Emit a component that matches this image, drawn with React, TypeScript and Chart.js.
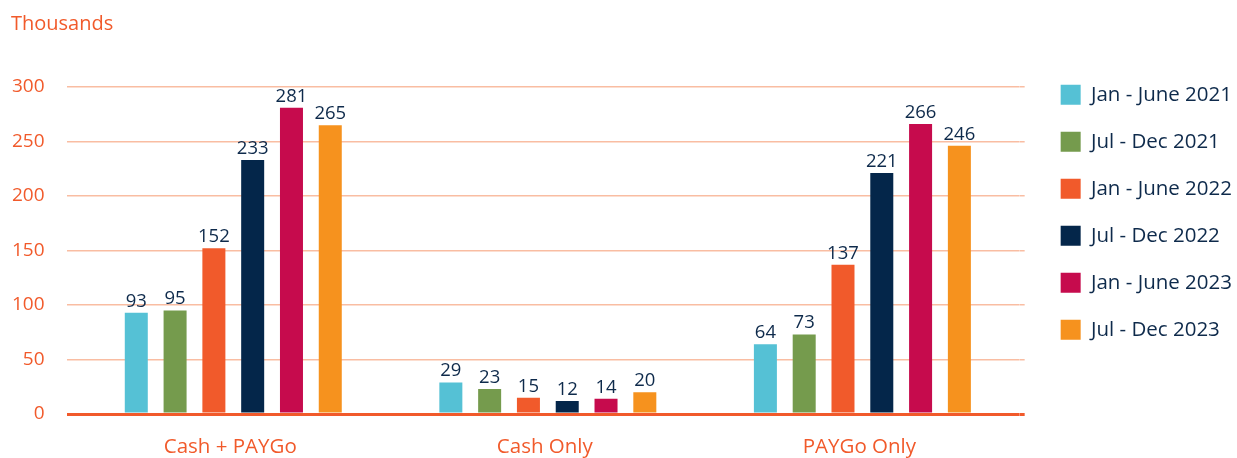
import React, { useEffect, useRef } from "react";
import { Chart, registerables } from "chart.js";

Chart.register(...registerables);

const categories = ["Cash + PAYGo", "Cash Only", "PAYGo Only"];
const seriesNames = [
  "Jan - June 2021",
  "Jul - Dec 2021",
  "Jan - June 2022",
  "Jul - Dec 2022",
  "Jan - June 2023",
  "Jul - Dec 2023",
];
const janJun2021 = [93, 29, 64];
const julDec2021 = [95, 23, 73];
const janJun2022 = [152, 15, 137];
const julDec2022 = [233, 12, 221];
const janJun2023 = [281, 14, 266];
const julDec2023 = [265, 20, 246];
const seriesValues = [janJun2021, julDec2021, janJun2022, julDec2022, janJun2023, julDec2023];
const seriesColors = ["#55c1d5", "#759b4d", "#f15a2b", "#04264a", "#c60b4d", "#f6921e"];
const yTicksMax = 300;
const yTickStep = 50;

const ORANGE = "#f15a2b";
const NAVY = "#0e2a4b";
const GRID = "#f9bda2";
const FONT = "'Open Sans', sans-serif";

const WIDTH = 1237;
const HEIGHT = 458;
const LEGEND_GAP = 8;
const LEGEND_SHIFT = 9.5;
const LEGEND_TOP = 58;
const X_AXIS_HEIGHT = 44;
const Y_AXIS_WIDTH = 65;
const Y_TICK_LEN = 9;
const Y2_TICK_LEN = 5;

const gridColor = (ctx: any) => (ctx.tick && ctx.tick.value === 0 ? ORANGE : GRID);
const gridWidth = (ctx: any) => (ctx.tick && ctx.tick.value === 0 ? 3 : 1.5);

const legendPlacePlugin = {
  id: "legendPlace",
  beforeLayout(chart: any) {
    const lg = chart.legend;
    if (lg && !lg.__patched) {
      const f = lg.fit;
      lg.fit = function () {
        f.call(this);
        this.width += LEGEND_GAP;
      };
      lg.__patched = true;
    }
  },
  afterLayout(chart: any) {
    const lg = chart.legend;
    if (lg) {
      lg.left += LEGEND_SHIFT;
      lg.width -= LEGEND_GAP;
      lg.top = LEGEND_TOP;
    }
  },
};

const valueLabelPlugin = {
  id: "valueLabels",
  afterDatasetsDraw(chart: any) {
    const ctx = chart.ctx;
    ctx.save();
    ctx.font = `18.5px ${FONT}`;
    ctx.fillStyle = NAVY;
    ctx.textAlign = "center";
    ctx.textBaseline = "bottom";
    chart.data.datasets.forEach((ds: any, i: number) => {
      const meta = chart.getDatasetMeta(i);
      meta.data.forEach((bar: any, j: number) => {
        ctx.fillText(String(ds.data[j]), bar.x, bar.y - 2);
      });
    });
    ctx.restore();
  },
};

export default function App() {
  const canvasRef = useRef<HTMLCanvasElement | null>(null);

  useEffect(() => {
    if (!canvasRef.current) return;
    const chart = new Chart(canvasRef.current, {
      type: "bar",
      data: {
        labels: categories,
        datasets: seriesNames.map((name, i) => ({
          label: name,
          data: seriesValues[i],
          backgroundColor: seriesColors[i],
          borderWidth: 0,
          categoryPercentage: 0.74,
          barPercentage: 0.593,
          yAxisID: "y",
        })),
      },
      options: {
        responsive: false,
        animation: false,
        layout: { padding: { left: 11, right: 0, top: 0, bottom: 0 } },
        plugins: {
          title: {
            display: true,
            text: "Thousands",
            align: "start",
            color: ORANGE,
            font: { family: FONT, size: 20, weight: "normal", lineHeight: 1.2 },
            padding: { top: 12, bottom: 51 },
          },
          legend: {
            display: true,
            position: "right",
            align: "start",
            labels: {
              boxWidth: 20,
              boxHeight: 20,
              padding: 26.5,
              color: NAVY,
              font: { family: FONT, size: 20.5 },
            },
          },
          tooltip: { enabled: false },
        },
        scales: {
          x: {
            grid: { display: false, drawTicks: false },
            border: { display: false },
            ticks: {
              color: ORANGE,
              font: { family: FONT, size: 20.5, lineHeight: 1.0 },
              padding: 23,
              labelOffset: -3,
            },
            afterFit(scale: any) {
              scale.height = X_AXIS_HEIGHT;
            },
          },
          y: {
            position: "left",
            min: 0,
            max: yTicksMax,
            border: { display: false },
            grid: { color: gridColor, lineWidth: gridWidth, drawTicks: true, tickLength: Y_TICK_LEN },
            ticks: {
              stepSize: yTickStep,
              color: ORANGE,
              font: { family: FONT, size: 19 },
              padding: 22.5,
            },
            afterFit(scale: any) {
              scale.width = Y_AXIS_WIDTH;
            },
          },
          y2: {
            type: "linear",
            display: true,
            position: "right",
            min: 0,
            max: yTicksMax,
            border: { display: false },
            grid: {
              color: gridColor,
              lineWidth: gridWidth,
              drawOnChartArea: false,
              drawTicks: true,
              tickLength: Y2_TICK_LEN,
            },
            ticks: { stepSize: yTickStep, display: false },
            afterFit(scale: any) {
              scale.width = Y2_TICK_LEN;
            },
          },
        },
      },
      plugins: [legendPlacePlugin, valueLabelPlugin],
    } as any);
    return () => chart.destroy();
  }, []);

  return (
    <div style={{ position: "absolute", left: 0, top: 0, width: WIDTH, height: HEIGHT }}>
      <canvas ref={canvasRef} width={WIDTH} height={HEIGHT} style={{ display: "block" }} />
    </div>
  );
}
